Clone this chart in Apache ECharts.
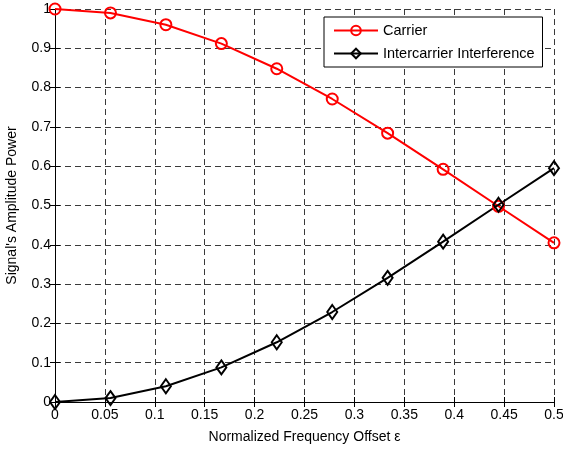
<!DOCTYPE html>
<html>
<head>
<meta charset="utf-8">
<script src="https://cdn.jsdelivr.net/npm/echarts@6/dist/echarts.min.js"></script>
<style>html,body{margin:0;padding:0;background:#fff;}#chart{width:563px;height:450px;}</style>
</head>
<body>
<div id="chart"></div>
<script>
var offsets = [0, 0.0556, 0.1111, 0.1667, 0.2222, 0.2778, 0.3333, 0.3889, 0.4444, 0.5];
var carrier = [1.000, 0.990, 0.960, 0.912, 0.848, 0.771, 0.684, 0.592, 0.498, 0.405];
var ici = [0.000, 0.010, 0.040, 0.088, 0.152, 0.229, 0.316, 0.408, 0.502, 0.595];
var seriesNames = ['Carrier', 'Intercarrier Interference'];
var xLabel = 'Normalized Frequency Offset \u03b5';
var yLabel = "Signal's Amplitude Power";

var font = 'Liberation Sans, Arial, Helvetica, sans-serif';
function pairs(xs, ys) { return xs.map(function (x, i) { return [x, ys[i]]; }); }

var chart = echarts.init(document.getElementById('chart'), null, {renderer: 'canvas'});
var gridDash = {show: true, lineStyle: {color: '#3a3a3a', type: [6, 4], width: 1}};
chart.setOption({
  animation: false,
  backgroundColor: '#fff',
  grid: {left: 55, right: 9, top: 9, bottom: 48, containLabel: false, outerBoundsMode: 'none'},
  legend: {
    orient: 'vertical', left: 324, top: 17,
    itemWidth: 44, itemHeight: 12, itemGap: 8,
    padding: [6, 8, 6, 9],
    borderColor: '#000', borderWidth: 1, borderRadius: 0,
    backgroundColor: '#fff',
    textStyle: {fontFamily: font, fontSize: 14.5, color: '#000'},
    data: seriesNames
  },
  xAxis: [{
    type: 'value', min: 0, max: 0.5, interval: 0.05,
    name: xLabel, nameLocation: 'middle', nameGap: 28,
    nameTextStyle: {fontFamily: font, fontSize: 14, color: '#000'},
    axisLine: {show: true, onZero: false, lineStyle: {color: '#000', width: 1}},
    axisTick: {show: true, inside: true, length: 5, lineStyle: {color: '#000'}},
    axisLabel: {fontFamily: font, fontSize: 14, color: '#000', margin: 6},
    splitLine: gridDash
  }, {
    type: 'value', min: 0, max: 0.5, interval: 0.05, position: 'top',
    axisLine: {show: false},
    axisTick: {show: true, inside: true, length: 5, lineStyle: {color: '#000'}},
    axisLabel: {show: false}, splitLine: {show: false}
  }],
  yAxis: [{
    type: 'value', min: 0, max: 1, interval: 0.1,
    name: yLabel, nameLocation: 'middle', nameGap: 36,
    nameTextStyle: {fontFamily: font, fontSize: 14, color: '#000'},
    axisLine: {show: true, onZero: false, lineStyle: {color: '#000', width: 1}},
    axisTick: {show: true, inside: true, length: 5, lineStyle: {color: '#000'}},
    axisLabel: {fontFamily: font, fontSize: 14, color: '#000', margin: 4},
    splitLine: gridDash
  }, {
    type: 'value', min: 0, max: 1, interval: 0.1, position: 'right',
    axisLine: {show: false},
    axisTick: {show: true, inside: true, length: 5, lineStyle: {color: '#000'}},
    axisLabel: {show: false}, splitLine: {show: false}
  }],
  series: [{
    name: seriesNames[0], type: 'line', data: pairs(offsets, carrier),
    symbol: 'circle', symbolSize: 11,
    lineStyle: {color: '#ff0000', width: 2},
    itemStyle: {color: 'rgba(255,255,255,0)', borderColor: '#ff0000', borderWidth: 2},
    z: 3
  }, {
    name: seriesNames[1], type: 'line', data: pairs(offsets, ici),
    symbol: 'diamond', symbolSize: [10, 14],
    lineStyle: {color: '#000', width: 2},
    itemStyle: {color: 'rgba(255,255,255,0)', borderColor: '#000', borderWidth: 2},
    z: 3
  }]
});
</script>
</body>
</html>
